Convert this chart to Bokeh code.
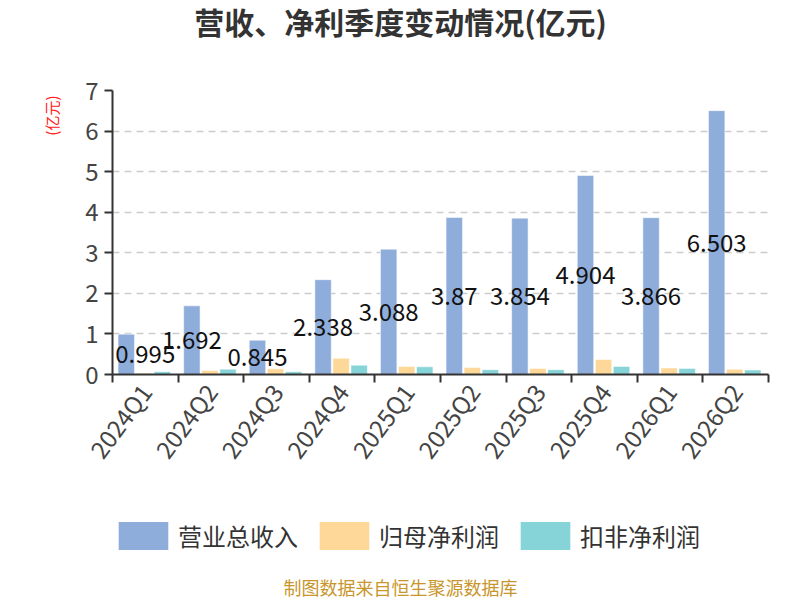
import numpy as np
from bokeh.plotting import figure
from bokeh.layouts import column
from bokeh.models import (ColumnDataSource, Range1d, FixedTicker, Title, Legend,
                          LegendItem, Label)
from bokeh.transform import dodge
from bokeh.core.properties import value
from bokeh.embed import file_html
from bokeh.resources import INLINE

quarters = ["2024Q1", "2024Q2", "2024Q3", "2024Q4", "2025Q1",
            "2025Q2", "2025Q3", "2025Q4", "2026Q1", "2026Q2"]
revenue = [0.995, 1.692, 0.845, 2.338, 3.088, 3.87, 3.854, 4.904, 3.866, 6.503]
net_profit = [0.03, 0.10, 0.14, 0.40, 0.20, 0.17, 0.15, 0.37, 0.16, 0.13]
deducted_profit = [0.07, 0.13, 0.07, 0.23, 0.19, 0.12, 0.12, 0.20, 0.15, 0.11]
y_ticks = [0, 1, 2, 3, 4, 5, 6, 7]
series_names = ["营业总收入", "归母净利润", "扣非净利润"]
colors = ["#8eaddb", "#fed898", "#87d4d8"]
title_text = "营收、净利季度变动情况(亿元)"
unit_text = "(亿元)"
source_text = "制图数据来自恒生聚源数据库"

FONT = "Noto Sans CJK SC"
W = 800
FRAME_LEFT = 112  # frames of the stacked figures are aligned to the chart's frame


def blank_figure(height, y_range=(0, 1)):
    f = figure(width=W, height=height, output_backend="svg", toolbar_location=None,
               x_range=Range1d(0, 1), y_range=Range1d(*y_range),
               x_axis_location=None, y_axis_location=None,
               min_border=0, min_border_left=0, min_border_right=0,
               min_border_top=0, min_border_bottom=0)
    f.outline_line_color = None
    f.xgrid.visible = False
    f.ygrid.visible = False
    f.title.visible = False
    return f


# ---- title strip ----
top = blank_figure(46)
top.add_layout(Label(x=400 - FRAME_LEFT, y=26, x_units="screen", y_units="screen",
                     text=title_text, text_font=FONT, text_font_size="30px",
                     text_font_style="bold", text_color="#333333",
                     text_align="center", text_baseline="middle"))

# ---- main chart ----
idx = list(range(len(quarters)))
label_shift = [19] + [0] * (len(quarters) - 1)  # keep first label inside the frame
src = ColumnDataSource(dict(
    x=idx,
    rev=revenue,
    net=net_profit,
    ded=deducted_profit,
    rev_mid=[v / 2 for v in revenue],
    rev_txt=[f"{v:g}" for v in revenue],
    dx=label_shift,
))

p = figure(width=W, height=434, output_backend="svg", toolbar_location=None,
           x_range=Range1d(-0.5, len(quarters) - 0.5), y_range=Range1d(0, 7),
           min_border_left=112, min_border_right=32, min_border_top=44,
           min_border_bottom=106)
p.outline_line_color = None
p.title.visible = False

bw = 0.25
offs = [-0.29, -0.015, 0.26]
fields = ["rev", "net", "ded"]
bars = []
for f_, o, c in zip(fields, offs, colors):
    bars.append(p.vbar(x=dodge("x", o, range=p.x_range), top=f_, width=bw, source=src,
                       fill_color=c, line_color="white", line_alpha=0.5))

p.text(x=dodge("x", offs[0], range=p.x_range), y="rev_mid", text="rev_txt", source=src,
       x_offset="dx", text_font=value(FONT), text_font_size="24px", text_color="#111111",
       text_align="center", text_baseline="middle")

xa = p.xaxis[0]
xa.ticker = FixedTicker(ticks=idx, minor_ticks=[i - 0.5 for i in range(len(quarters) + 1)])
xa.major_label_overrides = {i: q for i, q in zip(idx, quarters)}
xa.major_label_orientation = 0.93
xa.major_tick_line_color = None
xa.minor_tick_in = 0
xa.minor_tick_out = 8
xa.minor_tick_line_color = "#333333"
xa.minor_tick_line_width = 2
xa.axis_line_color = "#333333"
xa.axis_line_width = 2
xa.major_label_text_font = FONT
xa.major_label_text_font_size = "24px"
xa.major_label_text_color = "#444444"
xa.major_label_standoff = 4

ya = p.yaxis[0]
ya.ticker = FixedTicker(ticks=y_ticks)
ya.minor_tick_line_color = None
ya.major_tick_in = 0
ya.major_tick_out = 8
ya.major_tick_line_color = "#333333"
ya.major_tick_line_width = 2
ya.axis_line_color = "#333333"
ya.axis_line_width = 2
ya.major_label_text_font = FONT
ya.major_label_text_font_size = "24px"
ya.major_label_text_color = "#444444"
ya.major_label_standoff = 6

p.xgrid.visible = False
p.ygrid.grid_line_color = "#cccccc"
p.ygrid.grid_line_dash = "7 5"
p.ygrid.grid_line_width = 1.5

unit = Title(text=unit_text, text_font=FONT, text_font_size="15px", text_color="#ff2020",
             text_font_style="normal", align="right", offset=5, standoff=42)
p.add_layout(unit, "left")

# ---- legend + source strip ----
# legend swatches come from the same series, drawn outside this strip's visible y range
bot = blank_figure(120, y_range=(100, 101))
lr = [bot.vbar(x="x", top=f_, width=0.1, source=src, fill_color=c, line_color=None)
      for f_, c in zip(fields, colors)]
legend = Legend(items=[LegendItem(label=n, renderers=[r]) for n, r in zip(series_names, lr)],
                orientation="horizontal", location=(0, 47),
                glyph_width=62, glyph_height=35, label_text_font=FONT,
                label_text_font_size="24px", label_text_color="#333333",
                label_standoff=4, spacing=15, padding=0, margin=0,
                border_line_color=None, background_fill_alpha=0, label_height=35)
bot.add_layout(legend, "center")
bot.add_layout(Label(x=400 - FRAME_LEFT, y=14, x_units="screen", y_units="screen",
                     text=source_text, text_font=FONT, text_font_size="18px",
                     text_color="#c8962c", text_align="center", text_baseline="middle"))

layout = column(top, p, bot, spacing=0)
open("out.html", "w").write(file_html(layout, INLINE))
